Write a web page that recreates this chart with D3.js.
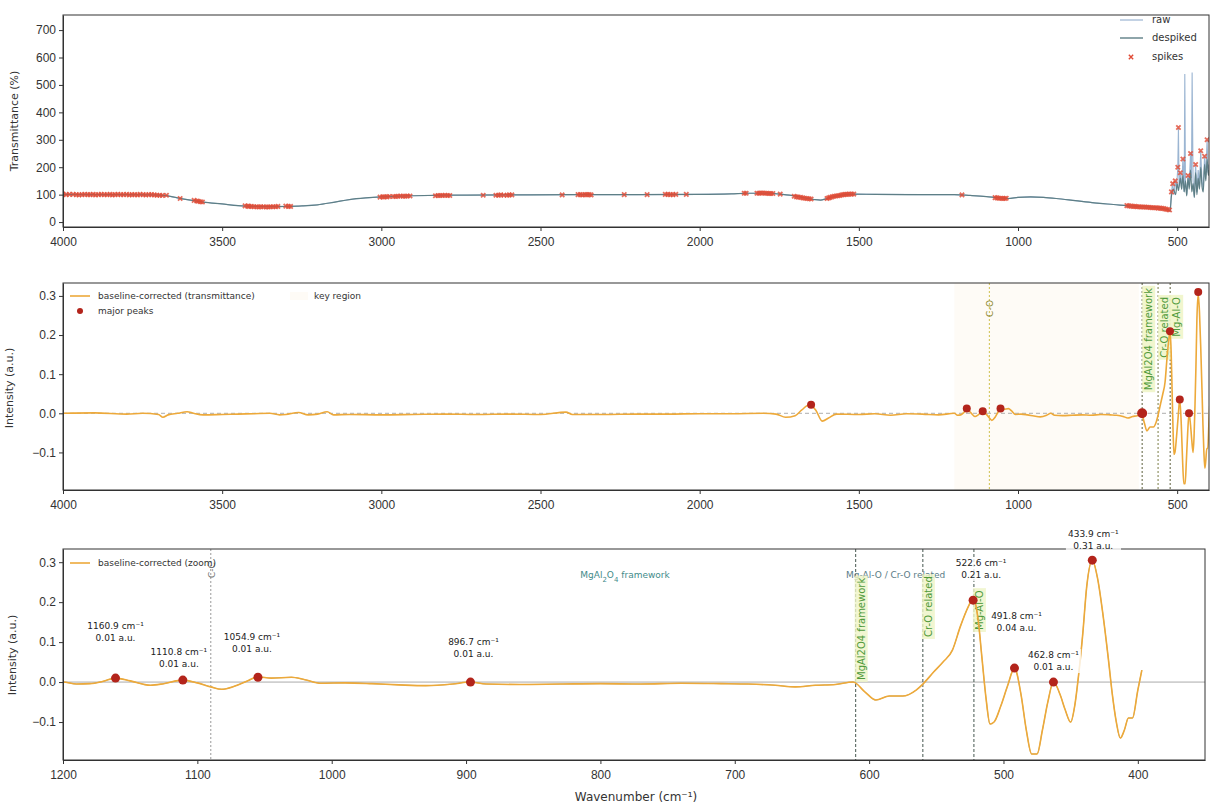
<!DOCTYPE html>
<html>
<head>
<meta charset="utf-8">
<script src="https://cdn.jsdelivr.net/npm/d3@7"></script>
<style>
  body { margin: 0; background: #fff; }
  svg { font-family: "DejaVu Sans", sans-serif; }
  .tick text { fill: #333; }
  .tick line, .domain { stroke: #333; }
</style>
</head>
<body>
<svg width="1214" height="808"></svg>
<script>
// ---------- data ----------

// top panel: despiked transmittance [wavenumber, %]
var despiked = [
  [4000,101],[3900,100],[3800,100],[3720,99],[3680,97],[3640,88],[3600,80],[3560,73],
  [3500,66],[3450,60],[3400,57],[3350,56],[3300,57],[3250,59],[3200,63],[3150,72],
  [3100,82],[3050,88],[3000,92],[2900,96],[2800,98],[2600,99],[2400,100],[2200,100],
  [2000,101],[1900,103],[1850,105],[1780,105],[1740,101],[1700,95],[1670,88],[1640,82],
  [1620,80],[1600,86],[1560,97],[1520,102],[1450,101],[1300,100],[1200,100],[1150,97],
  [1100,93],[1060,88],[1030,86],[1000,90],[960,92],[920,90],[880,86],[820,78],[760,70],
  [700,64],[640,58],[600,55],[560,52],[530,46],[522,42],[518,95],[512,120],[505,100],
  [500,140],[496,115],[490,160],[486,120],[482,170],[478,110],[474,150],[470,95],
  [466,160],[462,120],[458,190],[454,110],[450,140],[446,90],[442,180],[438,100],
  [434,160],[430,120],[426,200],[422,130],[418,110],[414,210],[410,150],[406,230],
  [402,170],[400,190]
];

// top panel: raw trace where it differs from the despiked one
var rawTail = [
  [530,46],[522,40],[518,110],[514,140],[510,100],[506,150],[502,120],[498,200],
  [496,345],[494,130],[490,180],[486,120],[482,230],[478,110],[476,540],[474,150],
  [470,100],[466,170],[462,140],[458,250],[455,160],[453,545],[450,150],[446,90],
  [442,210],[438,110],[434,190],[430,130],[426,260],[422,150],[418,120],[414,240],
  [410,170],[406,300],[403,180],[400,210]
];

// top panel: detected spikes
var spikes = [
  [4000,102],[3990,100],[3980,101],[3968,101],[3958,100],[3950,99],[3940,100],[3932,101],
  [3922,100],[3915,100],[3905,101],[3898,99],[3888,100],[3880,101],[3870,100],[3862,100],
  [3852,101],[3845,99],[3836,100],[3828,101],[3818,100],[3810,100],[3800,101],[3792,99],
  [3783,100],[3775,100],[3766,99],[3758,101],[3748,100],[3740,99],[3730,100],[3722,100],
  [3713,99],[3705,98],[3696,98],[3688,97],[3675,98],
  [3632,86],[3588,79],[3580,77],[3575,76],[3568,74],[3562,73],
  [3428,59],[3420,58],[3415,57],[3408,57],[3400,56],[3392,56],[3385,55],[3378,56],
  [3370,56],[3362,55],[3355,55],[3348,56],[3340,56],[3332,56],[3325,57],
  [3300,58],[3292,57],[3285,57],
  [3004,91],[2996,92],[2990,92],[2982,92],[2975,93],[2962,93],[2955,93],[2948,94],
  [2940,95],[2932,94],[2925,94],[2918,95],[2910,95],
  [2830,96],[2822,97],[2815,97],[2808,97],[2800,98],[2792,97],[2785,97],
  [2680,98],[2640,98],[2632,98],[2625,99],[2615,98],[2605,98],[2598,99],[2590,99],
  [2432,99],[2382,100],[2375,100],[2368,99],[2360,100],[2354,100],[2347,100],[2341,99],
  [2237,100],[2165,100],[2108,101],[2100,101],[2092,100],[2084,100],[2075,101],[2042,101],
  [1860,105],[1854,105],[1820,105],[1814,105],[1808,106],[1802,106],[1795,105],[1789,105],
  [1782,104],[1776,104],[1770,104],[1747,102],
  [1703,94],[1696,92],[1690,91],[1683,90],[1676,88],[1670,87],[1663,86],[1656,85],[1650,84],
  [1600,86],[1595,88],[1590,90],[1584,92],[1578,94],[1572,95],[1566,96],[1560,97],
  [1554,99],[1548,100],[1542,101],[1536,101],[1530,102],[1523,102],[1516,102],
  [1176,99],[1072,89],[1066,88],[1060,87],[1054,87],[1048,86],[1042,86],[1037,87],
  [658,60],[652,59],[645,58],[638,57],[632,57],[626,56],[620,56],[614,55],[608,55],
  [602,55],[596,54],[590,54],[584,53],[578,52],[572,52],[566,52],[560,51],[554,51],
  [548,50],[542,49],[536,47],[530,46],[524,44],
  [518,110],[514,140],[506,150],[498,200],[496,345],[490,180],[482,230],[466,170],
  [458,250],[442,210],[426,260],[414,240],[406,300]
];

// baseline-corrected intensity [wavenumber, a.u.]
var corrected = [
  [4000,0.0],[3900,0.001],[3800,-0.002],[3750,0.0],[3700,-0.003],[3686,-0.01],[3670,-0.004],
  [3640,0.0],[3610,0.004],[3590,0.0],[3560,-0.004],[3500,-0.003],[3450,-0.002],[3400,-0.001],
  [3350,0.0],[3320,-0.004],[3300,-0.003],[3260,0.002],[3230,-0.004],[3200,-0.002],
  [3170,0.004],[3150,-0.004],[3100,-0.003],[3000,-0.004],[2900,-0.003],[2800,-0.002],
  [2700,-0.003],[2600,-0.002],[2500,-0.003],[2420,0.003],[2400,-0.003],[2300,-0.003],
  [2200,-0.002],[2100,-0.002],[2000,-0.001],[1900,-0.001],[1800,0.0],[1760,-0.002],
  [1730,-0.01],[1700,-0.006],[1680,0.008],[1655,0.022],[1635,0.008],[1615,-0.02],
  [1595,-0.012],[1570,-0.002],[1500,-0.003],[1450,-0.001],[1400,-0.005],[1350,-0.001],
  [1300,-0.002],[1250,-0.004],
  [1200,0.0],[1190,-0.005],[1180,-0.004],[1170,0.002],[1161,0.01],[1150,0.003],
  [1135,-0.008],[1125,-0.004],[1111,0.005],[1100,-0.002],[1090,-0.012],[1082,-0.018],
  [1072,-0.01],[1062,0.004],[1055,0.013],[1045,0.01],[1030,0.012],[1020,0.006],
  [1008,-0.003],[990,-0.002],[970,-0.004],[950,-0.007],[930,-0.009],[910,-0.005],
  [897,0.0],[885,-0.005],[860,-0.006],[830,-0.005],[800,-0.004],[770,-0.005],
  [740,-0.003],[710,-0.004],[690,-0.005],[670,-0.008],[655,-0.012],[640,-0.008],
  [625,-0.006],[612,0.0],[603,-0.025],[595,-0.045],[585,-0.035],[575,-0.035],
  [565,-0.02],[560,-0.005],[552,0.025],[545,0.05],[538,0.08],[532,0.14],[526,0.19],
  [522.6,0.21],[519,0.16],[516,0.06],[513,-0.04],[510,-0.105],[507,-0.1],[502,-0.06],
  [497,-0.01],[491.8,0.035],[487,-0.03],[483,-0.12],[479,-0.18],[475,-0.18],[471,-0.12],
  [467,-0.05],[462.8,0.0],[458,-0.03],[454,-0.07],[450,-0.1],[447,-0.06],[444,0.02],
  [441,0.12],[438,0.24],[433.9,0.305],[430,0.26],[426,0.17],[422,0.06],[419,-0.03],
  [416,-0.1],[413,-0.14],[410,-0.12],[407,-0.09],[404,-0.09],[400,-0.02],[397,0.03]
];

// major peaks (middle panel)
var majorWn  = [1650, 1160.9, 1110.8, 1054.9, 610, 522.6, 491.8, 462.8, 433.9];
var majorVal = [0.022, 0.012, 0.005, 0.012, 0.0, 0.21, 0.035, 0.0, 0.31];

// annotated peaks (bottom panel)
var peakWn    = [1160.9, 1110.8, 1054.9, 896.7, 522.6, 491.8, 462.8, 433.9];
var peakVal   = [0.01, 0.005, 0.012, 0.0, 0.205, 0.035, 0.0, 0.305];
var peakLabel = ['0.01', '0.01', '0.01', '0.01', '0.21', '0.04', '0.01', '0.31'];

// assignment bands
var bandWn      = [1090, 610, 560, 522];
var bandNameMid = ['C-O', 'MgAl2O4 framework', 'Cr-O related', 'Mg-Al-O'];
var bandNameBot = ['C-C', 'MgAl2O4 framework', 'Cr-O related', 'Mg-Al-O'];
var keyRegion   = [1200, 620];

// tick values
var xTicksWide = [4000, 3500, 3000, 2500, 2000, 1500, 1000, 500];
var xTicksZoom = [1200, 1100, 1000, 900, 800, 700, 600, 500, 400];
var yTicksTop  = [0, 100, 200, 300, 400, 500, 600, 700];
var yTicksInt  = [-0.1, 0.0, 0.1, 0.2, 0.3];

// ---------- layout ----------
var svg = d3.select('svg');
var topBox = {l: 63, r: 1209, t: 15, b: 227};
var midBox = {l: 63, r: 1209, t: 283, b: 490};
var botBox = {l: 63, r: 1205, t: 549, b: 760};

var xTop = d3.scaleLinear().domain([4000, 400]).range([topBox.l, topBox.r]);
var yTop = d3.scaleLinear().domain([-18, 755]).range([topBox.b, topBox.t]);
var xMid = d3.scaleLinear().domain([4000, 400]).range([midBox.l, midBox.r]);
var yMid = d3.scaleLinear().domain([-0.196, 0.333]).range([midBox.b, midBox.t]);
var xBot = d3.scaleLinear().domain([1200, 350]).range([botBox.l, botBox.r]);
var yBot = d3.scaleLinear().domain([-0.195, 0.333]).range([botBox.b, botBox.t]);

var orange = '#eda93a';
var peakRed = '#b3241b';

function clip(id, box) {
  svg.append('clipPath').attr('id', id)
    .append('rect')
    .attr('x', box.l).attr('y', box.t)
    .attr('width', box.r - box.l).attr('height', box.b - box.t);
}
clip('clipTop', topBox);
clip('clipMid', midBox);
clip('clipBot', botBox);

function axes(box, x, y, xt, yt, yfmt) {
  svg.append('g')
    .attr('transform', `translate(0, ${box.b})`)
    .call(d3.axisBottom(x).tickValues(xt).tickSize(4).tickSizeOuter(0).tickFormat(d3.format('d')))
    .call(g => g.selectAll('text').attr('font-size', 12).attr('dy', '1.0em'));
  svg.append('g')
    .attr('transform', `translate(${box.l}, 0)`)
    .call(d3.axisLeft(y).tickValues(yt).tickSize(4).tickSizeOuter(0).tickFormat(yfmt))
    .call(g => g.selectAll('text').attr('font-size', 12));
  svg.append('rect')
    .attr('x', box.l).attr('y', box.t)
    .attr('width', box.r - box.l).attr('height', box.b - box.t)
    .attr('fill', 'none').attr('stroke', '#333').attr('stroke-width', 1);
}

function ylabel(text, x, yc) {
  svg.append('text')
    .attr('transform', `translate(${x}, ${yc}) rotate(-90)`)
    .attr('text-anchor', 'middle')
    .attr('font-size', 11)
    .attr('fill', '#333')
    .text(text);
}

// boxed label, optional background
function boxedText(g, text, opts) {
  var t = g.append('text')
    .attr('font-size', opts.size || 10)
    .attr('fill', opts.color)
    .attr('text-anchor', opts.anchor || 'start')
    .text(text);
  if (opts.bg) {
    var bb = t.node().getBBox();
    g.insert('rect', 'text')
      .attr('x', bb.x - 2).attr('y', bb.y - 1)
      .attr('width', bb.width + 4).attr('height', bb.height + 2)
      .attr('fill', opts.bg).attr('opacity', opts.bgOpacity || 1);
  }
  return t;
}

// ================= TOP PANEL =================
var lineTop = d3.line()
  .x(d => xTop(d[0])).y(d => yTop(d[1]))
  .curve(d3.curveMonotoneX);

var rawTrace = despiked.filter(d => d[0] > 530).concat(rawTail);

var gTop = svg.append('g').attr('clip-path', 'url(#clipTop)');
gTop.append('path')
  .datum(rawTrace)
  .attr('d', d3.line().x(d => xTop(d[0])).y(d => yTop(d[1])))
  .attr('fill', 'none').attr('stroke', '#9bb5d2').attr('stroke-width', 1.1);
gTop.append('path')
  .datum(despiked)
  .attr('d', lineTop)
  .attr('fill', 'none').attr('stroke', '#5e7f86').attr('stroke-width', 1.2);

var xMark = d3.symbol().type(d3.symbolX).size(14);
gTop.selectAll('path.spike')
  .data(spikes)
  .enter()
  .append('path')
  .attr('class', 'spike')
  .attr('transform', d => `translate(${xTop(d[0])}, ${yTop(d[1])})`)
  .attr('d', xMark)
  .attr('fill', 'none').attr('stroke', '#e04a35').attr('stroke-width', 1.8).attr('opacity', 0.8);

axes(topBox, xTop, yTop, xTicksWide, yTicksTop, d3.format('d'));
ylabel('Transmittance (%)', 18, 121);

// legend (top right)
var legTop = svg.append('g').attr('font-size', 10).attr('fill', '#333');
legTop.append('line').attr('x1', 1120).attr('x2', 1143).attr('y1', 20).attr('y2', 20)
  .attr('stroke', '#9bb5d2').attr('stroke-width', 1.2);
legTop.append('text').attr('x', 1152).attr('y', 23).text('raw');
legTop.append('line').attr('x1', 1120).attr('x2', 1143).attr('y1', 38).attr('y2', 38)
  .attr('stroke', '#5e7f86').attr('stroke-width', 1.4);
legTop.append('text').attr('x', 1152).attr('y', 41).text('despiked');
legTop.append('path').attr('transform', 'translate(1131, 57)').attr('d', xMark)
  .attr('fill', 'none').attr('stroke', '#e04a35').attr('stroke-width', 1.4);
legTop.append('text').attr('x', 1152).attr('y', 60).text('spikes');

// ================= MIDDLE PANEL =================
var gMid = svg.append('g').attr('clip-path', 'url(#clipMid)');

gMid.append('rect')
  .attr('x', xMid(keyRegion[0])).attr('y', midBox.t)
  .attr('width', xMid(keyRegion[1]) - xMid(keyRegion[0]))
  .attr('height', midBox.b - midBox.t)
  .attr('fill', '#f6e3bc').attr('opacity', 0.14);

gMid.append('line')
  .attr('x1', midBox.l).attr('x2', midBox.r)
  .attr('y1', yMid(0)).attr('y2', yMid(0))
  .attr('stroke', '#999').attr('stroke-width', 0.8).attr('stroke-dasharray', '4,3');

var midBandColor = ['#cfc04c', '#5d5f3c', '#7a7d45', '#5d5f3c'];
bandWn.forEach(function (wn, i) {
  gMid.append('line')
    .attr('x1', xMid(wn)).attr('x2', xMid(wn))
    .attr('y1', midBox.t).attr('y2', midBox.b)
    .attr('stroke', midBandColor[i]).attr('stroke-width', 1)
    .attr('stroke-dasharray', '2,2');
});

// band labels (middle), under the trace
var midLabelTop = [300, 288, 297, 297];
bandWn.forEach(function (wn, i) {
  var g = svg.append('g')
    .attr('transform', `translate(${xMid(wn) + (i === 0 ? 4 : 10)}, ${midLabelTop[i]}) rotate(-90)`);
  boxedText(g, bandNameMid[i], {
    color: i === 0 ? '#8f8a35' : '#4f9a3a',
    anchor: 'end',
    size: i === 0 ? 9 : 10,
    bg: i === 0 ? null : '#eef4c6',
    bgOpacity: 0.85
  });
});

var lineMid = d3.line()
  .x(d => xMid(d[0])).y(d => yMid(d[1]))
  .curve(d3.curveMonotoneX);
var gMid2 = svg.append('g').attr('clip-path', 'url(#clipMid)');
gMid2.append('path')
  .datum(corrected)
  .attr('d', lineMid)
  .attr('fill', 'none').attr('stroke', orange).attr('stroke-width', 1.6);

gMid2.selectAll('circle')
  .data(majorWn)
  .enter()
  .append('circle')
  .attr('cx', d => xMid(d))
  .attr('cy', (d, i) => yMid(majorVal[i]))
  .attr('r', (d, i) => majorWn[i] === 610 ? 5 : 4)
  .attr('fill', peakRed);

axes(midBox, xMid, yMid, xTicksWide, yTicksInt, d3.format('.1f'));
ylabel('Intensity (a.u.)', 13, 388);

// legend (middle)
var legMid = svg.append('g').attr('font-size', 9).attr('fill', '#333');
legMid.append('line').attr('x1', 70).attr('x2', 90).attr('y1', 296).attr('y2', 296)
  .attr('stroke', orange).attr('stroke-width', 1.6);
legMid.append('text').attr('x', 98).attr('y', 299).text('baseline-corrected (transmittance)');
legMid.append('circle').attr('cx', 80).attr('cy', 311).attr('r', 3).attr('fill', peakRed);
legMid.append('text').attr('x', 98).attr('y', 314).text('major peaks');
legMid.append('rect').attr('x', 290).attr('y', 292).attr('width', 18).attr('height', 8)
  .attr('fill', '#f6e3bc').attr('opacity', 0.14);
legMid.append('text').attr('x', 314).attr('y', 299).text('key region');

// ================= BOTTOM PANEL =================
var gBot = svg.append('g').attr('clip-path', 'url(#clipBot)');

gBot.append('line')
  .attr('x1', botBox.l).attr('x2', botBox.r)
  .attr('y1', yBot(0)).attr('y2', yBot(0))
  .attr('stroke', '#aaa').attr('stroke-width', 1);

var botBandColor = ['#9a9a9a', '#45564f', '#45564f', '#45564f'];
bandWn.forEach(function (wn, i) {
  gBot.append('line')
    .attr('x1', xBot(wn)).attr('x2', xBot(wn))
    .attr('y1', botBox.t).attr('y2', botBox.b)
    .attr('stroke', botBandColor[i]).attr('stroke-width', 1)
    .attr('stroke-dasharray', i === 0 ? '2,2' : '3,2');
});

// region titles
svg.append('text')
  .attr('x', 625).attr('y', 578).attr('text-anchor', 'middle')
  .attr('font-size', 9).attr('fill', '#3f8b8a')
  .html('MgAl<tspan baseline-shift="sub" font-size="7">2</tspan>O<tspan baseline-shift="sub" font-size="7">4</tspan> framework');
svg.append('text')
  .attr('x', 846).attr('y', 578)
  .attr('font-size', 9).attr('fill', '#5a7c86')
  .text('Mg-Al-O / Cr-O related');

// band labels (bottom)
var botLabelBase = [578, 680, 637, 630];
bandWn.forEach(function (wn, i) {
  var g = svg.append('g')
    .attr('transform', `translate(${xBot(wn) + (i === 0 ? 4 : 9)}, ${botLabelBase[i]}) rotate(-90)`);
  boxedText(g, bandNameBot[i], {
    color: i === 0 ? '#777' : '#4f9a3a',
    anchor: 'start',
    size: i === 0 ? 9 : 10,
    bg: i === 0 ? null : '#eef4c6',
    bgOpacity: 0.8
  });
});

var lineBot = d3.line()
  .x(d => xBot(d[0])).y(d => yBot(d[1]))
  .curve(d3.curveMonotoneX);
var gBot2 = svg.append('g').attr('clip-path', 'url(#clipBot)');
gBot2.append('path')
  .datum(corrected)
  .attr('d', lineBot)
  .attr('fill', 'none').attr('stroke', '#8a7a2e').attr('stroke-width', 1)
  .attr('opacity', 0.6);
gBot2.append('path')
  .datum(corrected)
  .attr('d', lineBot)
  .attr('fill', 'none').attr('stroke', orange).attr('stroke-width', 1.6);

gBot2.selectAll('circle')
  .data(peakWn)
  .enter()
  .append('circle')
  .attr('cx', d => xBot(d))
  .attr('cy', (d, i) => yBot(peakVal[i]))
  .attr('r', 4.5)
  .attr('fill', peakRed);

axes(botBox, xBot, yBot, xTicksZoom, yTicksInt, d3.format('.1f'));
ylabel('Intensity (a.u.)', 16, 655);

// peak annotations (white boxes, drawn over the frame)
var annDx = [0, -4, -6, 3, 8, 2, 0, 1];
var annDy = [-49, -25, -37, -37, -34, -49, -24, -23];

peakWn.forEach(function (wn, i) {
  var px = xBot(wn), py = yBot(peakVal[i]);
  var g = svg.append('g').attr('transform', `translate(${px + annDx[i]}, ${py + annDy[i]})`);
  var t = g.append('text')
    .attr('text-anchor', 'middle')
    .attr('font-size', 9)
    .attr('fill', '#222');
  t.append('tspan').attr('x', 0).attr('y', 0).text(d3.format('.1f')(wn) + ' cm⁻¹');
  t.append('tspan').attr('x', 0).attr('y', 12).text(peakLabel[i] + ' a.u.');
  var bb = t.node().getBBox();
  g.insert('rect', 'text')
    .attr('x', bb.x - 2).attr('y', bb.y - 1)
    .attr('width', bb.width + 4).attr('height', bb.height + 2)
    .attr('fill', '#fff').attr('opacity', 0.8);
});

// legend (bottom)
var legBot = svg.append('g').attr('font-size', 9).attr('fill', '#333');
legBot.append('line').attr('x1', 70).attr('x2', 90).attr('y1', 563).attr('y2', 563)
  .attr('stroke', orange).attr('stroke-width', 1.6);
legBot.append('text').attr('x', 98).attr('y', 566).text('baseline-corrected (zoom)');

// x label
svg.append('text')
  .attr('x', 636).attr('y', 801)
  .attr('text-anchor', 'middle')
  .attr('font-size', 12)
  .attr('fill', '#333')
  .text('Wavenumber (cm⁻¹)');
</script>
</body>
</html>
